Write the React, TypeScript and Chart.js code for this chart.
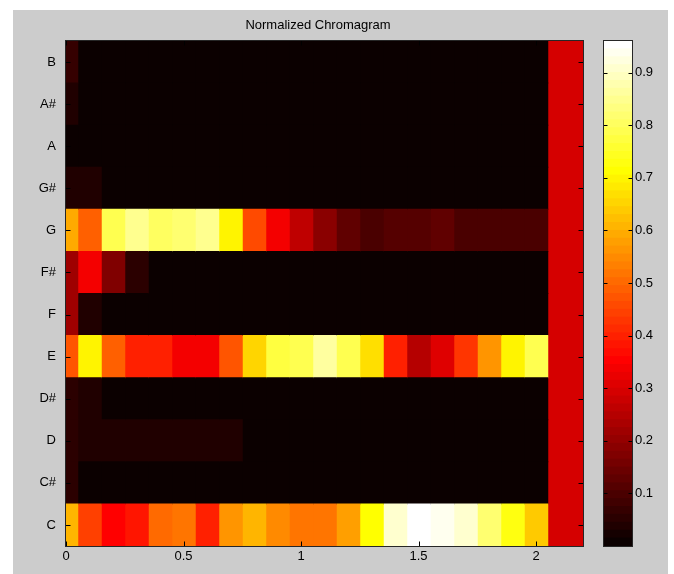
import React, { useEffect, useRef } from "react";
import { Chart, registerables } from "chart.js";

Chart.register(...registerables);

// ---------------- data ----------------
const pitchClasses = ["C", "C#", "D", "D#", "E", "F", "F#", "G", "G#", "A", "A#", "B"];

// frame boundaries in seconds (frame centres at 0, 0.1, ... 2.0, final frame 2.05-2.2)
const frameEdges = [
  -0.05, 0.05, 0.15, 0.25, 0.35, 0.45, 0.55, 0.65, 0.75, 0.85, 0.95, 1.05, 1.15,
  1.25, 1.35, 1.45, 1.55, 1.65, 1.75, 1.85, 1.95, 2.05, 2.2,
];

const chromaC = [0.60, 0.44, 0.35, 0.38, 0.50, 0.51, 0.40, 0.56, 0.60, 0.55, 0.52, 0.51, 0.57, 0.71, 0.91, 0.96, 0.94, 0.90, 0.82, 0.72, 0.63, 0.29];
const chromaCs = [0.05, 0.005, 0.005, 0.005, 0.005, 0.005, 0.005, 0.005, 0.005, 0.005, 0.005, 0.005, 0.005, 0.005, 0.005, 0.005, 0.005, 0.005, 0.005, 0.005, 0.005, 0.29];
const chromaD = [0.05, 0.04, 0.03, 0.03, 0.03, 0.042, 0.042, 0.03, 0.005, 0.005, 0.005, 0.005, 0.005, 0.005, 0.005, 0.005, 0.005, 0.005, 0.005, 0.005, 0.005, 0.29];
const chromaDs = [0.055, 0.03, 0.005, 0.005, 0.005, 0.005, 0.005, 0.005, 0.005, 0.005, 0.005, 0.005, 0.005, 0.005, 0.005, 0.005, 0.005, 0.005, 0.005, 0.005, 0.005, 0.29];
const chromaE = [0.47, 0.70, 0.49, 0.40, 0.39, 0.33, 0.34, 0.47, 0.65, 0.77, 0.79, 0.86, 0.79, 0.66, 0.40, 0.25, 0.30, 0.43, 0.56, 0.70, 0.78, 0.29];
const chromaF = [0.22, 0.04, 0.005, 0.005, 0.005, 0.005, 0.005, 0.005, 0.005, 0.005, 0.005, 0.005, 0.005, 0.005, 0.005, 0.005, 0.005, 0.005, 0.005, 0.005, 0.005, 0.29];
const chromaFs = [0.21, 0.33, 0.17, 0.055, 0.005, 0.005, 0.005, 0.005, 0.005, 0.005, 0.005, 0.005, 0.005, 0.005, 0.005, 0.005, 0.005, 0.005, 0.005, 0.005, 0.005, 0.29];
const chromaG = [0.59, 0.49, 0.79, 0.84, 0.80, 0.81, 0.84, 0.70, 0.46, 0.33, 0.255, 0.19, 0.127, 0.10, 0.106, 0.106, 0.12, 0.10, 0.092, 0.092, 0.092, 0.29];
const chromaGs = [0.04, 0.035, 0.005, 0.005, 0.005, 0.005, 0.005, 0.005, 0.005, 0.005, 0.005, 0.005, 0.005, 0.005, 0.005, 0.005, 0.005, 0.005, 0.005, 0.005, 0.005, 0.29];
const chromaA = [0.012, 0.005, 0.005, 0.005, 0.005, 0.005, 0.005, 0.005, 0.005, 0.005, 0.005, 0.005, 0.005, 0.005, 0.005, 0.005, 0.005, 0.005, 0.005, 0.005, 0.005, 0.29];
const chromaAs = [0.038, 0.005, 0.005, 0.005, 0.005, 0.005, 0.005, 0.005, 0.005, 0.005, 0.005, 0.005, 0.005, 0.005, 0.005, 0.005, 0.005, 0.005, 0.005, 0.005, 0.005, 0.29];
const chromaB = [0.06, 0.005, 0.005, 0.005, 0.005, 0.005, 0.005, 0.005, 0.005, 0.005, 0.005, 0.005, 0.005, 0.005, 0.005, 0.005, 0.005, 0.005, 0.005, 0.005, 0.005, 0.29];

const chromaRows = [chromaC, chromaCs, chromaD, chromaDs, chromaE, chromaF, chromaFs, chromaG, chromaGs, chromaA, chromaAs, chromaB];

const xTicks = [0, 0.5, 1, 1.5, 2];
const colorbarTicks = [0.1, 0.2, 0.3, 0.4, 0.5, 0.6, 0.7, 0.8, 0.9];
const colorMin = 0;
const colorMax = 0.96;
const colormapSize = 64;
const titleText = "Normalized Chromagram";

// ---------------- helpers ----------------
const FONT = "'Liberation Sans', Arial, Helvetica, sans-serif";

function hotIndexColor(i: number): string {
  const k = i + 1;
  const clamp = (v: number) => Math.max(0, Math.min(1, v));
  const r = clamp(k / 24);
  const g = clamp((k - 24) / 24);
  const b = clamp((k - 48) / 16);
  return `rgb(${Math.round(r * 255)},${Math.round(g * 255)},${Math.round(b * 255)})`;
}

function hot(v: number): string {
  let i = Math.floor(((v - colorMin) / (colorMax - colorMin)) * colormapSize);
  if (i < 0) i = 0;
  if (i > colormapSize - 1) i = colormapSize - 1;
  return hotIndexColor(i);
}

const boxTicksPlugin = {
  id: "boxTicks",
  afterDatasetsDraw(chart: any, _args: any, opts: any) {
    const { ctx, chartArea: a, scales } = chart;
    const L = Math.round(a.left) - 0.5;
    const R = Math.round(a.right) + 0.5;
    const T = Math.round(a.top) - 0.5;
    const B = Math.round(a.bottom) + 0.5;
    ctx.save();
    ctx.strokeStyle = "#000";
    ctx.lineWidth = 1;
    ctx.beginPath();
    const len = opts.len || 5;
    if (opts.yTicks) {
      const ys = scales.y;
      ys.ticks.forEach((t: any, i: number) => {
        const y = Math.round(ys.getPixelForTick(i)) + 0.5;
        ctx.moveTo(L, y);
        ctx.lineTo(L + len, y);
        ctx.moveTo(R, y);
        ctx.lineTo(R - len, y);
      });
    }
    if (opts.xTicks) {
      const xs = scales.x;
      xs.ticks.forEach((t: any) => {
        const x = Math.round(xs.getPixelForValue(t.value)) + 0.5;
        ctx.moveTo(x, B);
        ctx.lineTo(x, B - len);
        ctx.moveTo(x, T);
        ctx.lineTo(x, T + len);
      });
    }
    ctx.stroke();
    ctx.strokeStyle = "#262626";
    ctx.strokeRect(L, T, R - L, B - T);
    ctx.restore();
  },
};

export default function App() {
  const mainRef = useRef<HTMLCanvasElement | null>(null);
  const barRef = useRef<HTMLCanvasElement | null>(null);

  useEffect(() => {
    Chart.defaults.font.family = FONT;
    const labels = [...pitchClasses].reverse();
    const rowsTopDown = [...chromaRows].reverse();
    const nFrames = frameEdges.length - 1;

    const datasets = [] as any[];
    for (let f = 0; f < nFrames; f++) {
      datasets.push({
        label: "frame" + f,
        data: labels.map(() => [frameEdges[f], frameEdges[f + 1]]),
        backgroundColor: rowsTopDown.map((row) => hot(row[f])),
        borderWidth: 0,
        grouped: false,
        barPercentage: 1,
        categoryPercentage: 1,
        inflateAmount: 0.5,
        clip: 0,
        yAxisID: "y",
      });
    }

    const main = new Chart(mainRef.current as HTMLCanvasElement, {
      type: "bar",
      data: { labels, datasets },
      plugins: [boxTicksPlugin],
      options: {
        indexAxis: "y",
        responsive: false,
        animation: false,
        layout: { padding: 0 },
        scales: {
          x: {
            type: "linear",
            min: 0,
            max: 2.2,
            afterBuildTicks: (s: any) => {
              s.ticks = xTicks.map((v) => ({ value: v }));
            },
            afterFit: (s: any) => {
              s.height = 28;
            },
            ticks: {
              color: "#000",
              font: { size: 13, family: FONT },
              padding: 3,
              maxRotation: 0,
              callback: (v: any) => String(v),
            },
            grid: { display: false, drawTicks: false, tickLength: 0 },
            border: { display: false },
          },
          y: {
            type: "category",
            position: "left",
            afterFit: (s: any) => {
              s.width = 53;
            },
            ticks: {
              color: "#000",
              font: { size: 13, family: FONT },
              padding: 10,
            },
            grid: { display: false, drawTicks: false, tickLength: 0 },
            border: { display: false },
          },
          yRight: {
            type: "category",
            axis: "y",
            position: "right",
            afterFit: (s: any) => {
              s.width = 40;
            },
            ticks: { display: false },
            grid: { display: false, drawTicks: false, tickLength: 0 },
            border: { display: false },
          },
        },
        plugins: {
          legend: { display: false },
          tooltip: { enabled: false },
          title: {
            display: true,
            text: titleText,
            color: "#000",
            font: { size: 13, family: FONT, weight: "normal", lineHeight: 1 },
            padding: { top: 9, bottom: 9 },
          },
          boxTicks: { len: 5, xTicks: true, yTicks: true },
        } as any,
      },
    } as any);

    const levels = [] as any[];
    for (let i = 0; i < colormapSize; i++) {
      const lo = colorMin + ((colorMax - colorMin) * i) / colormapSize;
      const hi = colorMin + ((colorMax - colorMin) * (i + 1)) / colormapSize;
      levels.push({
        label: "level" + i,
        data: [[lo, hi]],
        backgroundColor: hotIndexColor(i),
        borderWidth: 0,
        grouped: false,
        barPercentage: 1,
        categoryPercentage: 1,
        inflateAmount: 0.5,
        clip: 0,
      });
    }

    const bar = new Chart(barRef.current as HTMLCanvasElement, {
      type: "bar",
      data: { labels: [""], datasets: levels },
      plugins: [boxTicksPlugin],
      options: {
        responsive: false,
        animation: false,
        layout: { padding: { left: 4, right: 0, top: 31, bottom: 28 } },
        scales: {
          x: { type: "category", display: false },
          y: {
            type: "linear",
            position: "right",
            min: colorMin,
            max: colorMax,
            afterBuildTicks: (s: any) => {
              s.ticks = colorbarTicks.map((v) => ({ value: v }));
            },
            afterFit: (s: any) => {
              s.width = 32;
            },
            ticks: {
              color: "#000",
              font: { size: 13, family: FONT },
              padding: 3,
              callback: (v: any) => Number(v).toFixed(1),
            },
            grid: { display: false, drawTicks: false, tickLength: 0 },
            border: { display: false },
          },
        },
        plugins: {
          legend: { display: false },
          tooltip: { enabled: false },
          title: { display: false },
          boxTicks: { len: 4, xTicks: false, yTicks: true },
        } as any,
      },
    } as any);

    return () => {
      main.destroy();
      bar.destroy();
    };
  }, []);

  return (
    <div
      style={{
        position: "absolute",
        left: 0,
        top: 0,
        width: 674,
        height: 574,
        background: "#ffffff",
        overflow: "hidden",
      }}
    >
      <div
        style={{
          position: "absolute",
          left: 13,
          top: 10,
          width: 655,
          height: 564,
          background: "#cccccc",
        }}
      />
      <div style={{ position: "absolute", left: 13, top: 10, width: 610, height: 564 }}>
        <canvas ref={mainRef} width={610} height={564} style={{ display: "block" }} />
      </div>
      <div style={{ position: "absolute", left: 600, top: 10, width: 64, height: 564 }}>
        <canvas ref={barRef} width={64} height={564} style={{ display: "block" }} />
      </div>
    </div>
  );
}
